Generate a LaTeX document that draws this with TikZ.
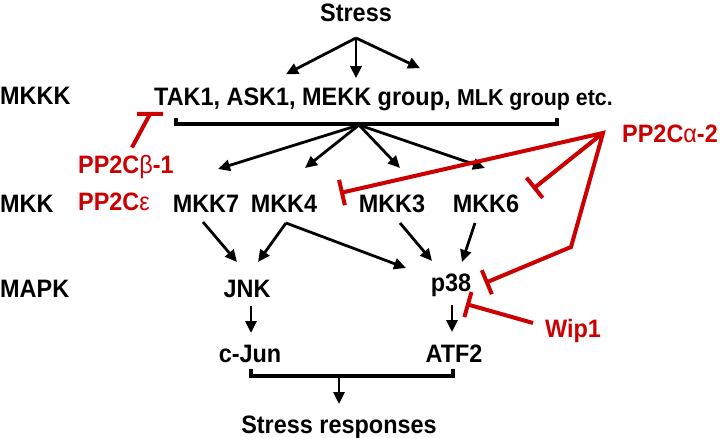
\documentclass[tikz,border=0pt]{standalone}
\usepackage{fontspec}
\setmainfont{Liberation Sans}[FakeStretch=0.93]
\usetikzlibrary{arrows.meta,calc}
\definecolor{inhred}{RGB}{204,0,0}
\tikzset{inhbar/.tip={Bar[width=26pt]}}

\begin{document}
\begin{tikzpicture}[x=1pt, y=-1pt, line join=miter,
  every node/.style={inner sep=0pt, font=\bfseries\fontsize{25.2}{30}\selectfont},
  lbl/.style={anchor=base},
  lvl/.style={anchor=base west},
  redlbl/.style={anchor=base west, text=inhred},
  act/.style={line width=2.8pt, -{Triangle[length=12pt,width=11pt]}},
  brk/.style={line width=3.6pt},
  inh/.style={draw=inhred, line width=4pt, -inhbar}]
  \useasboundingbox (0,0) rectangle (720,438);
  % Level labels
  \node[lvl] (mkkk) at (0,105) {MKKK};
  \node[lvl] (mkk) at (0,213) {MKK};
  \node[lvl] (mapk) at (0,298) {MAPK};
  % Input and kinases
  \node[lbl] (stress) at (356,22) {Stress};
  \node[lvl] (mkkkgrp) at (154,106) {TAK1, ASK1, MEKK group, {\fontsize{23}{27}\selectfont MLK group etc.}};
  \node[lbl] (mkk7) at (206,213) {MKK7};
  \node[lbl] (mkk4) at (284,213) {MKK4};
  \node[lbl] (mkk3) at (392,213) {MKK3};
  \node[lbl] (mkk6) at (486,213) {MKK6};
  \node[lbl] (jnk) at (247,298) {JNK};
  \node[lbl] (p38) at (451,291) {p38};
  \node[lbl] (cjun) at (250,362) {c-Jun};
  \node[lbl] (atf2) at (454,362) {ATF2};
  \node[lbl] (resp) at (339,433) {Stress responses};
  % Phosphatases
  \node[redlbl] (pp2ca) at (622,143) {PP2C{\mdseries α}-2};
  \node[redlbl] (pp2cb) at (78,174) {PP2C{\mdseries β}-1};
  \node[redlbl] (pp2ce) at (78,211) {PP2C{\mdseries ε}};
  \node[redlbl] (wip1) at (545,337) {Wip1};

  % Stress fans out to the MKKKs
  \coordinate (stresshub) at ($(stress.base)+(0,16)$);
  \foreach \dx/\dy in {132/-14, 202/-10, 266/-20}
    \draw[act] (stresshub) -- ($(mkkkgrp.north west)+(\dx,\dy)$);
  % Bracket under the MKKK row
  \draw[brk] (176,118) |- (557,124) -- (557,118);
  \coordinate (mkkkhub) at (359,125);
  \draw[act] (mkkkhub) -- ($(mkk7.base)+(12,-44)$);
  \draw[act] (mkkkhub) -- ($(mkk4.base)+(21,-45)$);
  \draw[act] (mkkkhub) -- ($(mkk3.base)+(8,-45)$);
  \draw[act] (mkkkhub) -- ($(mkk6.base)+(-1,-45)$);
  % MKK to MAPK
  \draw[act] ($(mkk7.base)+(-3,9)$) -- ($(jnk.base)+(-10,-36)$);
  \draw[act] ($(mkk4.base)+(2,10)$) -- ($(jnk.base)+(11,-36)$);
  \draw[act] ($(mkk4.base)+(2,10)$) -- ($(p38.base)+(-45,-23)$);
  \draw[act] ($(mkk3.base)+(8,10)$) -- ($(p38.base)+(-19,-30)$);
  \draw[act] ($(mkk6.base)+(-11,10)$) -- ($(p38.base)+(11,-29)$);
  % MAPK to substrates
  \draw[act] ($(jnk.base)+(4,8)$) -- ($(cjun.base)+(1,-29)$);
  \draw[act] ($(p38.base)+(1,14)$) -- ($(atf2.base)+(-2,-30)$);
  % Bracket and output
  \draw[brk] (251,369) |- (453,376) -- (453,369);
  \coordinate (outhub) at (339,377);
  \draw[act] (outhub) -- ($(resp.base)+(0,-29)$);

  % Inhibition by phosphatases
  \coordinate (pahub) at ($(pp2ca.base west)+(-19,-10)$);
  \draw[inh, inhbar-inhbar] ($(mkk4.base)+(56,-20)$) -- (pahub) -- (571,247) -- ($(p38.base)+(34,-8)$);
  \draw[inh] (pahub) -- ($(mkk6.base)+(47,-24)$);
  \draw[inh] ($(wip1.base west)+(-12,-14)$) -- ($(p38.base)+(15,13)$);
  \draw[draw=inhred, line width=4pt] ($(pp2cb.north)+(6,-8)$) -- (150,114) ++(-13,0) -- ++(26,0);
\end{tikzpicture}
\end{document}
